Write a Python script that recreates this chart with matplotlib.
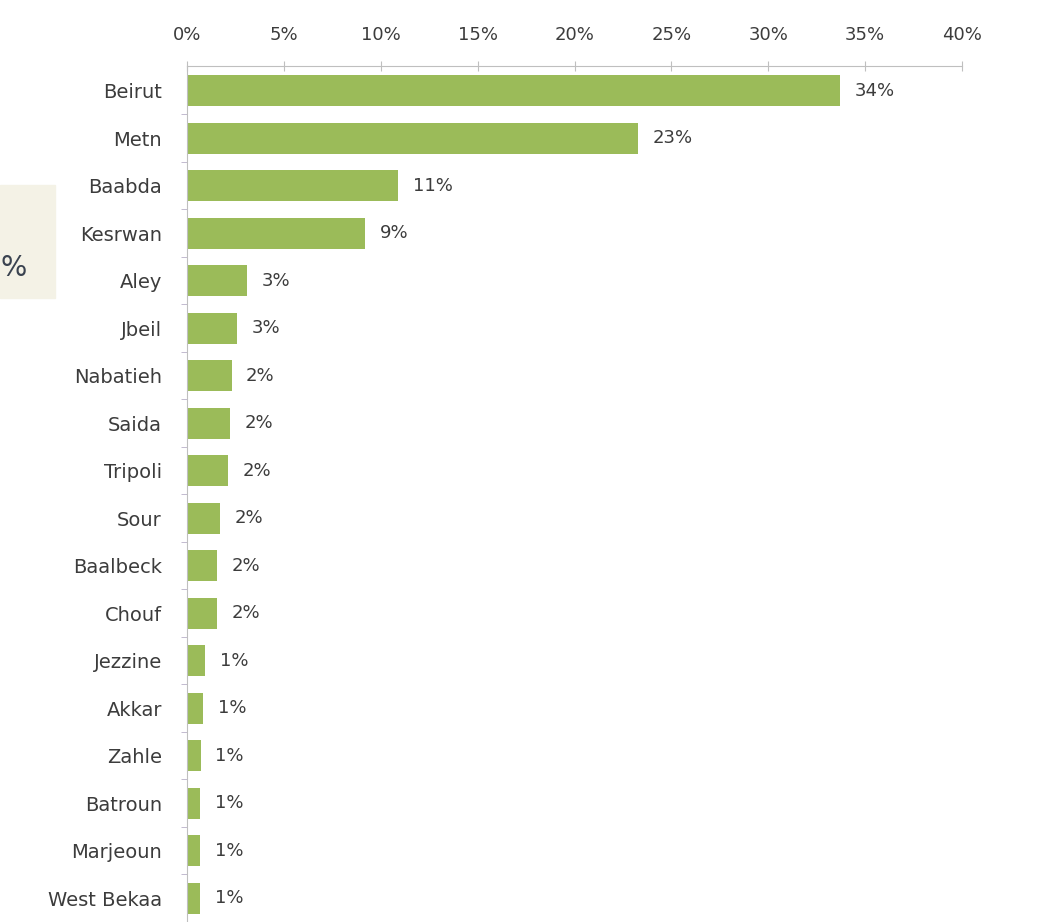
import matplotlib.pyplot as plt
import matplotlib.patches as mpatches
import numpy as np

plt.rcParams['font.family'] = ['DejaVu Sans']

# districts and their share
districts = ['Beirut', 'Metn', 'Baabda', 'Kesrwan', 'Aley', 'Jbeil', 'Nabatieh',
             'Saida', 'Tripoli', 'Sour', 'Baalbeck', 'Chouf', 'Jezzine', 'Akkar',
             'Zahle', 'Batroun', 'Marjeoun', 'West Bekaa']
shares = [33.7, 23.3, 10.9, 9.2, 3.1, 2.6, 2.3, 2.2, 2.1, 1.7, 1.55, 1.55,
          0.93, 0.83, 0.72, 0.67, 0.67, 0.67]
labels = ['34%', '23%', '11%', '9%', '3%', '3%', '2%', '2%', '2%', '2%', '2%',
          '2%', '1%', '1%', '1%', '1%', '1%', '1%']
xticks = [0, 5, 10, 15, 20, 25, 30, 35, 40]

green = '#9BBB59'
text_col = '#3C3C3C'
axis_col = '#BFBFBF'

fig = plt.figure(figsize=(10.38, 9.22), dpi=100)

# beige box partly visible at the left edge
fig.patches.append(mpatches.Rectangle((0, 1 - 298 / 922), 55 / 1038, 113 / 922,
                                      transform=fig.transFigure, color='#F4F2E6',
                                      zorder=0))
fig.text(0.0, 1 - 268 / 922, '%', fontsize=20, color='#3A4350',
         ha='left', va='center')

ax = fig.add_axes([187 / 1038, 0, (962 - 187) / 1038, 1 - 66 / 922])

y = np.arange(len(districts))
ax.barh(y, shares, height=0.65, color=green)
for yi, v, lab in zip(y, shares, labels):
    ax.text(v + 0.75, yi, lab, va='center', ha='left', fontsize=13, color=text_col)

ax.set_xlim(0, 40)
ax.set_ylim(17.33, -0.52)

ax.xaxis.tick_top()
ax.set_xticks(xticks)
ax.set_xticklabels([f'{t}%' for t in xticks], fontsize=13, color=text_col)
ax.tick_params(axis='x', direction='inout', length=7, color=axis_col, pad=12)

ax.set_yticks(y)
ax.set_yticklabels(districts, fontsize=14, color=text_col)
ax.set_yticks(np.arange(len(districts)) + 0.5, minor=True)
ax.tick_params(axis='y', which='major', length=0, pad=18)
ax.tick_params(axis='y', which='minor', direction='out', length=4, color='#B8B0C8')

for s in ['right', 'bottom']:
    ax.spines[s].set_visible(False)
ax.spines['top'].set_color(axis_col)
ax.spines['left'].set_color(axis_col)

fig.savefig('out.png', dpi=100)
